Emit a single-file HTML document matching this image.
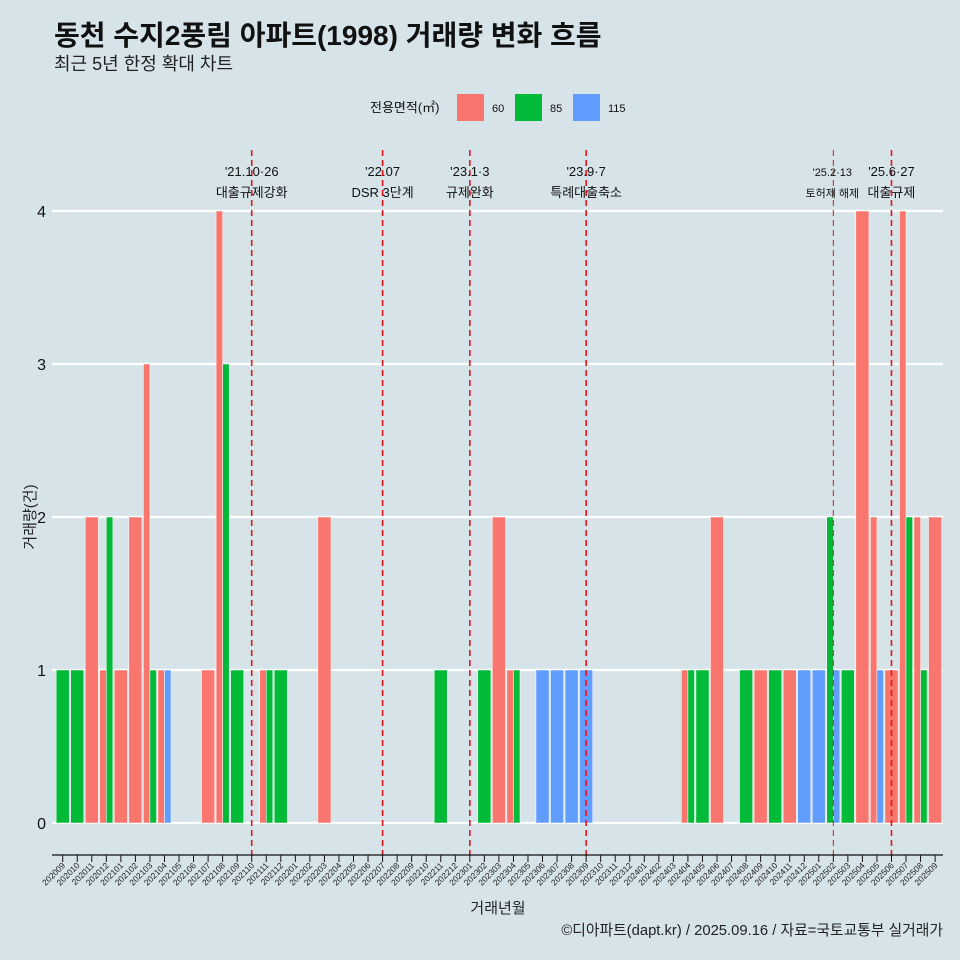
<!DOCTYPE html>
<html><head><meta charset="utf-8">
<style>
body{margin:0;background:#d6e4ea;}
svg{display:block;font-family:"Liberation Sans","Noto Sans CJK KR",sans-serif;}
</style></head>
<body>
<svg id="c" width="960" height="960" viewBox="0 0 960 960" xmlns="http://www.w3.org/2000/svg">
<rect x="0" y="0" width="960" height="960" fill="#d6e4ea"/>
<text x="54" y="45" font-size="28" font-weight="bold" fill="#111">동천 수지2풍림 아파트(1998) 거래량 변화 흐름</text>
<text x="54" y="70" font-size="18" fill="#222">최근 5년 한정 확대 차트</text>
<g>
<text x="370" y="112" font-size="13" fill="#111">전용면적(㎡)</text>
<rect x="457" y="94" width="27" height="27" fill="#F8766D"/>
<text x="492" y="112" font-size="11" fill="#111">60</text>
<rect x="515" y="94" width="27" height="27" fill="#00BA38"/>
<text x="550" y="112" font-size="11" fill="#111">85</text>
<rect x="573" y="94" width="27" height="27" fill="#619CFF"/>
<text x="608" y="112" font-size="11" fill="#111">115</text>
</g>
<g id="grid"></g><g id="bars"></g><g id="vlines"></g><g id="axes"></g>
<text x="498" y="913" font-size="15" text-anchor="middle" fill="#222">거래년월</text>
<text transform="translate(35,517) rotate(-90)" font-size="15" text-anchor="middle" fill="#222">거래량(건)</text>
<text x="943" y="935" font-size="14.8" text-anchor="end" fill="#222">©디아파트(dapt.kr) / 2025.09.16 / 자료=국토교통부 실거래가</text>
</svg>
<script>
const months=["202009","202010","202011","202012","202101","202102","202103","202104","202105","202106","202107","202108","202109","202110","202111","202112","202201","202202","202203","202204","202205","202206","202207","202208","202209","202210","202211","202212","202301","202302","202303","202304","202305","202306","202307","202308","202309","202310","202311","202312","202401","202402","202403","202404","202405","202406","202407","202408","202409","202410","202411","202412","202501","202502","202503","202504","202505","202506","202507","202508","202509"];
const s60 =[0,0,2,1,1,2,3,1,0,0,1,4,0,0,1,0,0,0,2,0,0,0,0,0,0,0,0,0,0,0,2,1,0,0,0,0,0,0,0,0,0,0,0,1,0,2,0,0,1,0,1,0,0,0,0,4,2,1,4,2,2];
const s85 =[1,1,0,2,0,0,1,0,0,0,0,3,1,0,1,1,0,0,0,0,0,0,0,0,0,0,1,0,0,1,0,1,0,0,0,0,0,0,0,0,0,0,0,1,1,0,0,1,0,1,0,0,0,2,1,0,0,0,2,1,0];
const s115=[0,0,0,0,0,0,0,1,0,0,0,0,0,0,0,0,0,0,0,0,0,0,0,0,0,0,0,0,0,0,0,0,0,1,1,1,1,0,0,0,0,0,0,0,0,0,0,0,0,0,0,1,1,1,0,0,1,0,0,0,0];
const yTicks=[0,1,2,3,4];
const events=["202110","202207","202301","202309","202502","202506"];
const eventDates=["'21.10·26","'22.07","'23.1·3","'23.9·7","'25.2·13","'25.6·27"];
const eventLabels=["대출규제강화","DSR 3단계","규제완화","특례대출축소","토허제 해제","대출규제"];
const NS="http://www.w3.org/2000/svg";
const X0=62.7,DX=14.54,Y0=823,DY=153,PL=52,PR=943;
const x=i=>X0+DX*i, y=v=>Y0-DY*v;
function mk(tag,attrs,parent){const e=document.createElementNS(NS,tag);for(const k in attrs)e.setAttribute(k,attrs[k]);parent.appendChild(e);return e;}
const grid=document.getElementById('grid'),bars=document.getElementById('bars'),vl=document.getElementById('vlines'),ax=document.getElementById('axes');
yTicks.forEach(t=>{
  const l=mk('line',{x1:PL,x2:PR,y1:y(t),y2:y(t),stroke:'#fff','stroke-width':2.2},grid);
  
  
  const tx=mk('text',{x:46,y:y(t)+6,'font-size':16,'text-anchor':'end',fill:'#111'},ax);
  tx.textContent=t;
  
  
});
const series=[[s60,'#F8766D','60'],[s85,'#00BA38','85'],[s115,'#619CFF','115']];
months.forEach((m,i)=>{
  const present=series.filter(s=>s[0][i]>0);
  const W=DX*0.9,w=W/Math.max(present.length,1);
  present.forEach((s,j)=>{
    const v=s[0][i];
    const r=mk('rect',{x:x(i)-W/2+j*w,y:y(v),width:w,height:Y0-y(v),fill:s[1],stroke:'#fff','stroke-width':0.5},bars);
    
    
  });
  const tk=mk('line',{x1:x(i),x2:x(i),y1:855,y2:862,stroke:'#111','stroke-width':1},ax);
  
  
  const lb=mk('text',{transform:`translate(${x(i)+3},866) rotate(-45)`,'font-size':8.5,'text-anchor':'end',fill:'#222'},ax);
  lb.textContent=m;
  
  
});
const axl=mk('line',{x1:PL,x2:PR,y1:855,y2:855,stroke:'#111','stroke-width':1.2},ax);


events.forEach((e,k)=>{
  const xi=x(months.indexOf(e));
  const small=e==="202502";
  const l=mk('line',{x1:xi,x2:xi,y1:150,y2:856,stroke:'#e8131b','stroke-width':small?1:1.6,'stroke-dasharray':'6,4'},vl);
  
  
  const fs=small?11:13;
  const cx=small?xi-1:xi;
  const t1=mk('text',{x:cx,y:176,'font-size':fs,'text-anchor':'middle',fill:'#111'},vl);
  t1.textContent=eventDates[k];
  
  
  const t2=mk('text',{x:cx,y:197,'font-size':fs,'text-anchor':'middle',fill:'#111'},vl);
  t2.textContent=eventLabels[k];
  
  
});
</script>
</body></html>
